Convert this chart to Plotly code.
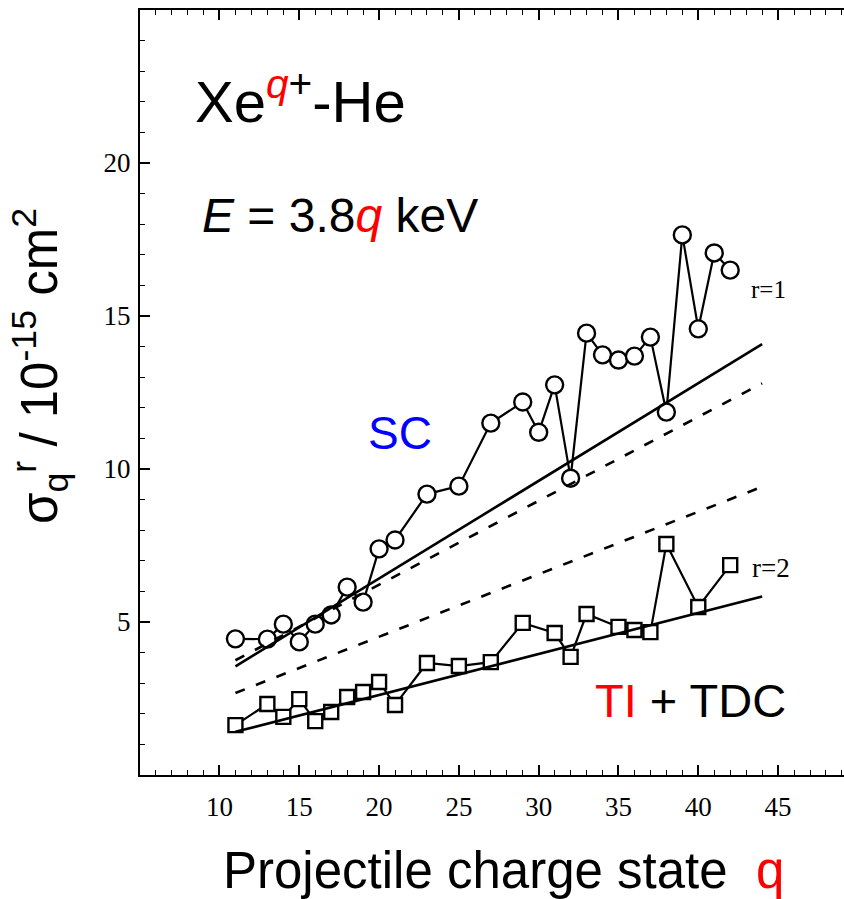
import plotly.graph_objects as go

# ---- data ----
q_r1 = [11, 13, 14, 15, 16, 17, 18, 19, 20, 21, 23, 25, 27, 29, 30, 31, 32,
        33, 34, 35, 36, 37, 38, 39, 40, 41, 42]
sigma_r1 = [4.45, 4.44, 4.93, 4.35, 4.93, 5.23, 6.14, 5.65, 7.39, 7.68, 9.18,
            9.44, 11.5, 12.19, 11.2, 12.75, 9.7, 14.44, 13.73, 13.56, 13.69,
            14.31, 11.86, 17.65, 14.58, 17.06, 16.5]

q_r2 = [11, 13, 14, 15, 16, 17, 18, 19, 20, 21, 23, 25, 27, 29, 31, 32, 33,
        35, 36, 37, 38, 40, 42]
sigma_r2 = [1.63, 2.32, 1.9, 2.48, 1.76, 2.06, 2.55, 2.71, 3.04, 2.29, 3.66,
            3.56, 3.69, 4.97, 4.64, 3.86, 5.26, 4.84, 4.74, 4.67, 7.55, 5.49,
            6.86]

fit_q = [11, 44]
fit_r1_solid = [3.55, 14.08]
fit_r1_dash = [3.75, 12.8]
fit_r2_dash = [2.68, 9.42]
fit_r2_solid = [1.41, 5.83]

x_tick_vals = [5, 10, 15, 20, 25, 30, 35, 40, 45]
x_tick_text = [" ", "10", "15", "20", "25", "30", "35", "40", "45"]
y_tick_vals = [5, 10, 15, 20]
y_tick_text = ["5", "10", "15", "20"]

# ---- layout geometry (pixels) ----
W, H = 844, 899
L, R, T, B = 140, 0, 10, 124
PW, PH = W - L - R, H - T - B


def px(xp):
    return (xp - L) / PW


def py(yp):
    return (H - B - yp) / PH


SANS = "Liberation Sans, Arial, sans-serif"
SERIF = "Liberation Serif, Times New Roman, serif"

fig = go.Figure()

fig.add_trace(go.Scatter(
    x=q_r1, y=sigma_r1, mode="lines+markers",
    line=dict(color="black", width=2.2),
    marker=dict(symbol="circle", size=17, color="white",
                line=dict(color="black", width=2.4)),
    showlegend=False))

fig.add_trace(go.Scatter(
    x=q_r2, y=sigma_r2, mode="lines+markers",
    line=dict(color="black", width=2.2),
    marker=dict(symbol="square", size=14, color="white",
                line=dict(color="black", width=2.4)),
    showlegend=False))

for ys, dash in [(fit_r1_solid, "solid"), (fit_r1_dash, "10px,12px"),
                 (fit_r2_dash, "10px,12px"), (fit_r2_solid, "solid")]:
    fig.add_trace(go.Scatter(
        x=fit_q, y=ys, mode="lines",
        line=dict(color="black", width=2.6, dash=dash),
        showlegend=False))

axis_common = dict(
    showline=True, linecolor="black", linewidth=2.2,
    ticks="inside", ticklen=10, tickwidth=1.6, tickcolor="black",
    showgrid=False, zeroline=False,
    tickfont=dict(family=SERIF, size=27, color="black"),
)

fig.update_xaxes(
    range=[5.02, 49.13], tickmode="array", tickvals=x_tick_vals,
    ticktext=x_tick_text, mirror="ticks", ticklabelstandoff=6,
    minor=dict(ticks="inside", ticklen=5, tickwidth=1.3, tickcolor="black",
               dtick=1, tick0=0),
    **axis_common)

fig.update_yaxes(
    range=[0, 25], tickmode="array", tickvals=y_tick_vals,
    ticktext=y_tick_text, mirror=False, ticklabelstandoff=2,
    minor=dict(ticks="inside", ticklen=5, tickwidth=1.3, tickcolor="black",
               dtick=1, tick0=0),
    **axis_common)

ann = []
ann.append(dict(
    text="Xe<sup><span style='color:red'><i>q</i></span>+</sup>-He",
    x=px(193), y=py(97), xanchor="left", yanchor="middle",
    font=dict(family=SANS, size=58, color="black")))
ann.append(dict(
    text="<i>E</i> = 3.8<span style='color:red'><i>q</i></span> keV",
    x=px(200), y=py(215), xanchor="left", yanchor="middle",
    font=dict(family=SANS, size=48, color="black")))
ann.append(dict(
    text="SC", x=px(400), y=py(433), xanchor="center", yanchor="middle",
    font=dict(family=SANS, size=46, color="#0000ff")))
ann.append(dict(
    text="<span style='color:red'>TI</span> + TDC",
    x=px(593), y=py(700), xanchor="left", yanchor="middle",
    font=dict(family=SANS, size=47, color="black")))
ann.append(dict(
    text="Projectile charge state&nbsp;&nbsp;<span style='color:red'>q</span>",
    x=px(503), y=py(870), xanchor="center", yanchor="middle",
    font=dict(family=SANS, size=51, color="black")))
ann.append(dict(
    text="r=1", x=px(768), y=py(289), xanchor="center", yanchor="middle",
    font=dict(family=SERIF, size=25, color="black")))
ann.append(dict(
    text="r=2", x=px(771), y=py(568), xanchor="center", yanchor="middle",
    font=dict(family=SERIF, size=27, color="black")))
ann.append(dict(
    text="σ<sub>q</sub><sup>r</sup> / 10<sup>-15</sup> cm<sup>2</sup>",
    x=px(40), y=py(366), xanchor="center", yanchor="middle", textangle=-90,
    font=dict(family=SANS, size=51, color="black")))

for a in ann:
    a.update(xref="paper", yref="paper", showarrow=False)

fig.update_layout(
    width=W, height=H,
    margin=dict(l=L, r=R, t=T, b=B, pad=0),
    paper_bgcolor="white", plot_bgcolor="white",
    annotations=ann,
)

fig.write_html("out.html")
